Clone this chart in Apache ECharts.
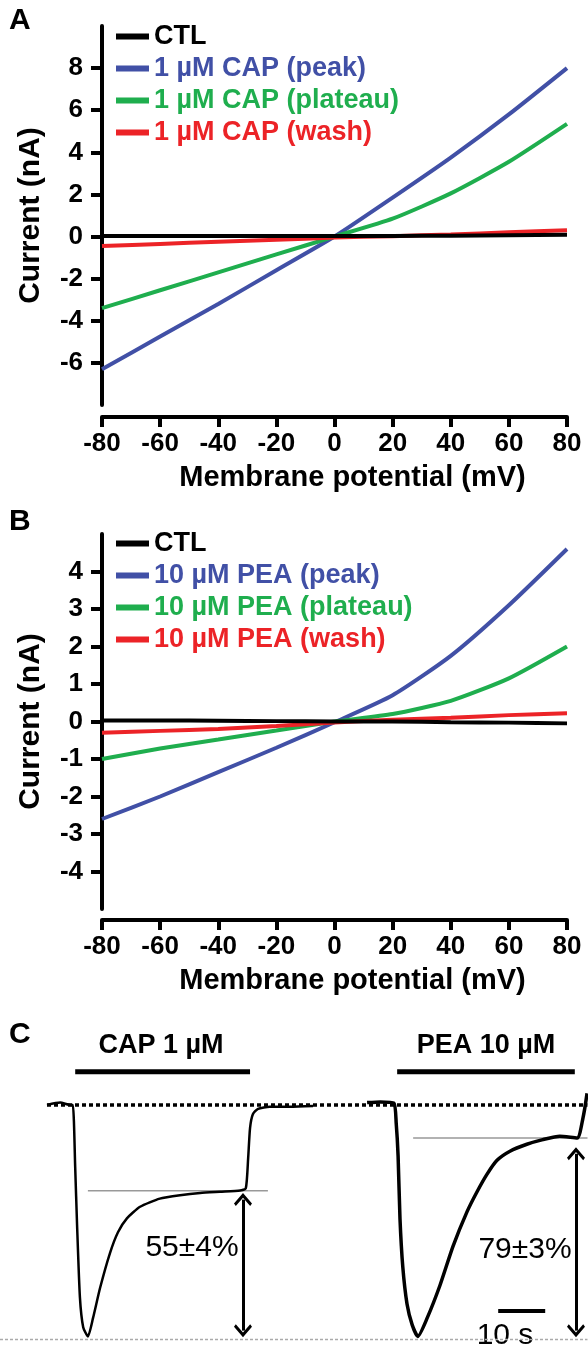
<!DOCTYPE html>
<html>
<head>
<meta charset="UTF-8">
<title></title>
<script src="https://cdn.jsdelivr.net/npm/echarts@6/dist/echarts.min.js"></script>
<style>
  html, body { margin: 0; padding: 0; background: #fff; }
  #main { width: 588px; height: 1348px; }
</style>
</head>
<body>
<div id="main"></div>
<script>
// membrane potential steps (mV), shared by panels A and B
var voltages = [-80, -60, -40, -20, 0, 20, 40, 60, 80];

// panel A: current (nA)
var ctlA     = [0.03, 0.03, 0.03, 0.03, 0.03, 0.03, 0.04, 0.06, 0.08];
var capPeak  = [-6.3, -4.75, -3.2, -1.6, 0, 1.85, 3.75, 5.8, 8.0];
var capPlat  = [-3.4, -2.55, -1.7, -0.85, 0, 0.85, 2.05, 3.55, 5.35];
var capWash  = [-0.45, -0.35, -0.25, -0.15, -0.05, 0.02, 0.1, 0.2, 0.3];

// panel B: current (nA)
var ctlB     = [0.03, 0.03, 0.02, 0.01, 0, 0, -0.02, -0.03, -0.05];
var peaPeak  = [-2.6, -2.0, -1.35, -0.7, -0.02, 0.7, 1.75, 3.1, 4.6];
var peaPlat  = [-1.0, -0.72, -0.48, -0.24, 0, 0.2, 0.55, 1.15, 2.0];
var peaWash  = [-0.3, -0.25, -0.2, -0.12, -0.03, 0.05, 0.1, 0.17, 0.22];

var ticksA = [-6, -4, -2, 0, 2, 4, 6, 8];
var ticksB = [-4, -3, -2, -1, 0, 1, 2, 3, 4];

// panel C: time (s) and current normalised to the peak
var capTime    = [10.0, 12.8, 14.9, 15.5, 16.0, 16.4, 17.0, 17.7, 18.7, 19.8, 21.3, 23.4, 25.1, 27.0, 29.8, 34.0, 38.3, 42.6, 46.8, 51.1, 52.3, 52.8, 53.2, 53.8, 54.9, 57.4, 61.7, 66.6];
var capCurrent = [0, 0.01, 0, 0, -0.27, -0.52, -0.83, -0.96, -1.0, -0.92, -0.79, -0.64, -0.55, -0.49, -0.44, -0.405, -0.39, -0.38, -0.375, -0.37, -0.36, -0.23, -0.10, -0.04, -0.017, -0.008, -0.008, -0.005];
var peaTime    = [78.1, 80.9, 83.8, 84.3, 84.7, 85.1, 85.7, 86.6, 87.7, 88.9, 90.9, 93.6, 96.4, 99.4, 101.5, 103.6, 105.7, 108.5, 112.1, 115.5, 119.1, 122.8, 124.0, 124.9];
var peaCurrent = [0.01, 0.013, 0.008, -0.08, -0.22, -0.49, -0.70, -0.86, -0.95, -1.0, -0.92, -0.78, -0.61, -0.46, -0.375, -0.30, -0.24, -0.20, -0.17, -0.15, -0.135, -0.143, -0.06, 0.05];

var capPlateauLevel = -0.371;
var peaPlateauLevel = -0.143;
var drugBarLevel = 0.143;
var capBar = [16.0, 53.2];
var peaBar = [84.5, 122.3];
var scaleBar = [106, 116];        // 10 s
var scaleBarLevel = -0.89;
var capArrow = [51.7, -0.409, -0.975];
var peaArrow = [122.55, -0.211, -0.975];

var FONT = '"Liberation Sans", Arial, sans-serif';
var BLUE = '#4150a6', GREEN = '#1fae4e', RED = '#ec2327', BLACK = '#000';

function pairs(ys) {
  return voltages.map(function (v, i) { return [v, ys[i]]; });
}
function zip(xs, ys) {
  return xs.map(function (x, i) { return [x, ys[i]]; });
}
function ivLine(name, ys, color, idx) {
  return {
    name: name, type: 'line', xAxisIndex: idx, yAxisIndex: idx,
    data: pairs(ys), smooth: 0.2, showSymbol: false, symbol: 'none',
    lineStyle: { color: color, width: 4 }, itemStyle: { color: color },
    clip: false, silent: true
  };
}
function flat(x0, x1, y, style) {
  return {
    type: 'line', xAxisIndex: 2, yAxisIndex: 2, data: [[x0, y], [x1, y]],
    showSymbol: false, symbol: 'none', lineStyle: style, clip: false, silent: true
  };
}

var chevron = 'path://M10,0 L20,10 L18,12.5 L10,4.5 L2,12.5 L0,10 Z';

function xAxisIV(idx, offset) {
  return {
    gridIndex: idx, type: 'value', min: -80, max: 80, interval: 20, offset: offset,
    axisLine: { onZero: false, lineStyle: { color: BLACK, width: 4 } },
    axisTick: { length: 10, lineStyle: { color: BLACK, width: 4 } },
    axisLabel: { color: BLACK, fontSize: 26, fontWeight: 'bold', fontFamily: FONT, margin: 14 },
    splitLine: { show: false },
    name: 'Membrane potential (mV)', nameLocation: 'middle', nameGap: 46,
    nameTextStyle: { color: BLACK, fontSize: 29, fontWeight: 'bold', fontFamily: FONT, padding: [0, 0, 0, 36] }
  };
}
function yAxisIV(idx, min, max, interval, ticks) {
  return {
    gridIndex: idx, type: 'value', min: min, max: max, interval: interval,
    axisLine: { show: true, onZero: false, lineStyle: { color: BLACK, width: 4 } },
    axisTick: { show: true, length: 11, customValues: ticks, lineStyle: { color: BLACK, width: 4 } },
    axisLabel: { color: BLACK, fontSize: 26, fontWeight: 'bold', fontFamily: FONT, margin: 19, customValues: ticks },
    splitLine: { show: false },
    name: 'Current (nA)', nameLocation: 'middle', nameGap: 56,
    nameTextStyle: { color: BLACK, fontSize: 30, fontWeight: 'bold', fontFamily: FONT }
  };
}
function legendFor(top, names, colors) {
  return {
    left: 116, top: top, padding: 0, orient: 'vertical', icon: 'rect',
    itemWidth: 33, itemHeight: 6, itemGap: 5,
    textStyle: { fontSize: 27, fontWeight: 'bold', fontFamily: FONT },
    selectedMode: false,
    data: names.map(function (n, i) { return { name: n, textStyle: { color: colors[i] } }; })
  };
}

var namesA = ['CTL', '1 µM CAP (peak)', '1 µM CAP (plateau)', '1 µM CAP (wash)'];
var namesB = ['CTL', '10 µM PEA (peak)', '10 µM PEA (plateau)', '10 µM PEA (wash)'];
var legendColors = [BLACK, BLUE, GREEN, RED];

var myChart = echarts.init(document.getElementById('main'));

var option = {
  animation: false,
  backgroundColor: '#fff',
  grid: [
    { left: 102, width: 465, top: 26, height: 379 },
    { left: 102, width: 465, top: 534, height: 375 },
    { left: 0, width: 587.5, top: 1058.6, height: 296.25 }
  ],
  xAxis: [
    xAxisIV(0, 12),
    xAxisIV(1, 11),
    { gridIndex: 2, type: 'value', min: 0, max: 125, show: false }
  ],
  yAxis: [
    yAxisIV(0, -8, 10, 2, ticksA),
    yAxisIV(1, -5, 5, 1, ticksB),
    { gridIndex: 2, type: 'value', min: -1.05, max: 0.2, show: false }
  ],
  legend: [
    legendFor(23, namesA, legendColors),
    legendFor(530, namesB, legendColors)
  ],
  graphic: [
    { type: 'text', left: 9, top: 6, style: { text: 'A', fontSize: 30, fontWeight: 'bold', fontFamily: FONT, fill: BLACK } },
    { type: 'text', left: 9, top: 507, style: { text: 'B', fontSize: 30, fontWeight: 'bold', fontFamily: FONT, fill: BLACK } },
    { type: 'text', left: 9, top: 1020, style: { text: 'C', fontSize: 30, fontWeight: 'bold', fontFamily: FONT, fill: BLACK } },
    { type: 'text', x: 161, y: 1046, style: { text: 'CAP 1 µM', fontSize: 27, fontWeight: 'bold', fontFamily: FONT, fill: BLACK, align: 'center', verticalAlign: 'middle' } },
    { type: 'text', x: 486, y: 1046, style: { text: 'PEA 10 µM', fontSize: 27, fontWeight: 'bold', fontFamily: FONT, fill: BLACK, align: 'center', verticalAlign: 'middle' } },
    { type: 'text', x: 192, y: 1248, style: { text: '55±4%', fontSize: 30, fontFamily: FONT, fill: BLACK, align: 'center', verticalAlign: 'middle' } },
    { type: 'text', x: 525, y: 1250, style: { text: '79±3%', fontSize: 30, fontFamily: FONT, fill: BLACK, align: 'center', verticalAlign: 'middle' } },
    { type: 'text', x: 505, y: 1336, style: { text: '10 s', fontSize: 30, fontFamily: FONT, fill: BLACK, align: 'center', verticalAlign: 'middle' } }
  ],
  series: [
    ivLine(namesA[1], capPeak, BLUE, 0),
    ivLine(namesA[2], capPlat, GREEN, 0),
    ivLine(namesA[3], capWash, RED, 0),
    ivLine('CTL', ctlA, BLACK, 0),
    ivLine(namesB[1], peaPeak, BLUE, 1),
    ivLine(namesB[2], peaPlat, GREEN, 1),
    ivLine(namesB[3], peaWash, RED, 1),
    ivLine('CTL', ctlB, BLACK, 1),

    // panel C
    flat(0, 125, -1.013, { color: '#aaa', width: 1.5, type: [3, 2] }),
    flat(10, 125, 0, { color: BLACK, width: 3.5, type: [4, 3] }),
    flat(18.7, 57, capPlateauLevel, { color: '#999', width: 1.5 }),
    Object.assign(flat(87.9, 125, peaPlateauLevel, { color: '#999', width: 1.5 }), {
      markLine: {
        silent: true, symbol: [chevron, chevron], symbolSize: [18, 13],
        label: { show: false },
        lineStyle: { color: BLACK, width: 3, type: 'solid' },
        data: [
          [{ coord: [capArrow[0], capArrow[1]] }, { coord: [capArrow[0], capArrow[2]] }],
          [{ coord: [peaArrow[0], peaArrow[1]] }, { coord: [peaArrow[0], peaArrow[2]] }]
        ]
      }
    }),
    flat(capBar[0], capBar[1], drugBarLevel, { color: BLACK, width: 5 }),
    flat(peaBar[0], peaBar[1], drugBarLevel, { color: BLACK, width: 5 }),
    flat(scaleBar[0], scaleBar[1], scaleBarLevel, { color: BLACK, width: 4 }),
    {
      type: 'line', xAxisIndex: 2, yAxisIndex: 2, data: zip(capTime, capCurrent),
      smooth: 0.2, showSymbol: false, symbol: 'none',
      lineStyle: { color: BLACK, width: 2.5 }, clip: false, silent: true
    },
    {
      type: 'line', xAxisIndex: 2, yAxisIndex: 2, data: zip(peaTime, peaCurrent),
      smooth: 0.2, showSymbol: false, symbol: 'none',
      lineStyle: { color: BLACK, width: 3.5 }, clip: false, silent: true
    }
  ]
};

myChart.setOption(option);
</script>
</body>
</html>
